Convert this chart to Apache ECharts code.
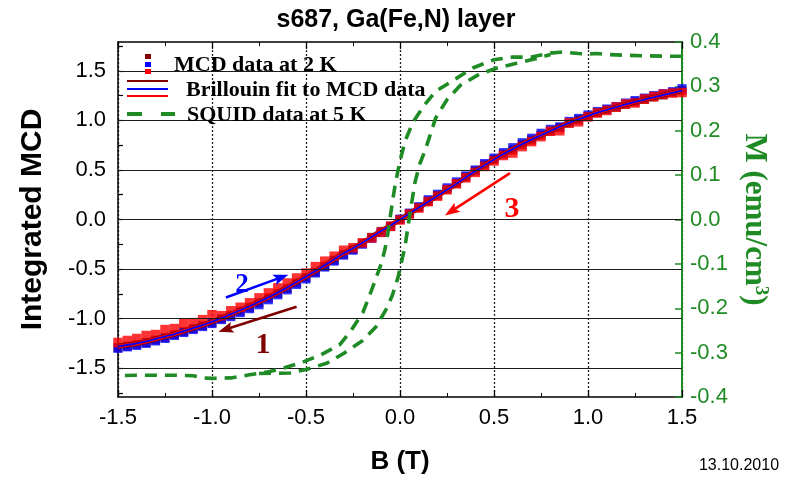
<!DOCTYPE html>
<html>
<head>
<meta charset="utf-8">
<script src="https://cdn.jsdelivr.net/npm/echarts@6/dist/echarts.min.js"></script>
<style>
  html, body { margin: 0; padding: 0; background: #ffffff; }
  #chart { width: 792px; height: 480px; }
</style>
</head>
<body>
<div id="chart"></div>
<script>
// Magnetic field B (T), shared by the three MCD sweeps and the Brillouin fit
const fieldT = [-1.5, -1.45, -1.4, -1.35, -1.3, -1.25, -1.2, -1.15, -1.1, -1.05,
  -1, -0.95, -0.9, -0.85, -0.8, -0.75, -0.7, -0.65, -0.6, -0.55,
  -0.5, -0.45, -0.4, -0.35, -0.3, -0.25, -0.2, -0.15, -0.1, -0.05,
  0, 0.05, 0.1, 0.15, 0.2, 0.25, 0.3, 0.35, 0.4, 0.45,
  0.5, 0.55, 0.6, 0.65, 0.7, 0.75, 0.8, 0.85, 0.9, 0.95,
  1, 1.05, 1.1, 1.15, 1.2, 1.25, 1.3, 1.35, 1.4, 1.45, 1.5];

// Integrated MCD, sweep 1 (down), sweep 2 (up), sweep 3 (down)
const mcdSweep1 = [-1.29, -1.275, -1.26, -1.24, -1.215, -1.19, -1.16, -1.13, -1.10, -1.07,
  -1.04, -1.00, -0.965, -0.925, -0.885, -0.84, -0.79, -0.745, -0.695, -0.64,
  -0.585, -0.53, -0.47, -0.41, -0.35, -0.30, -0.24, -0.18, -0.12, -0.065,
  0.0, 0.06, 0.12, 0.185, 0.245, 0.305, 0.365, 0.43, 0.49, 0.55,
  0.605, 0.66, 0.70, 0.755, 0.80, 0.85, 0.89, 0.925, 0.97, 1.005,
  1.04, 1.075, 1.105, 1.13, 1.16, 1.185, 1.21, 1.235, 1.255, 1.28, 1.30];
const mcdSweep2 = [-1.30, -1.285, -1.27, -1.25, -1.225, -1.20, -1.17, -1.14, -1.11, -1.08,
  -1.05, -1.01, -0.98, -0.94, -0.90, -0.86, -0.81, -0.76, -0.71, -0.655,
  -0.60, -0.54, -0.48, -0.42, -0.36, -0.31, -0.25, -0.19, -0.13, -0.07,
  0.005, 0.065, 0.13, 0.20, 0.255, 0.32, 0.38, 0.44, 0.50, 0.565,
  0.62, 0.675, 0.725, 0.775, 0.82, 0.87, 0.91, 0.935, 0.99, 1.02,
  1.055, 1.09, 1.115, 1.14, 1.175, 1.20, 1.225, 1.25, 1.27, 1.29, 1.32];
const mcdSweep3 = [-1.24, -1.22, -1.20, -1.17, -1.16, -1.11, -1.10, -1.05, -1.04, -1.01,
  -0.96, -0.97, -0.92, -0.885, -0.84, -0.79, -0.74, -0.69, -0.64, -0.59,
  -0.54, -0.475, -0.42, -0.37, -0.31, -0.285, -0.235, -0.185, -0.13, -0.07,
  -0.005, 0.055, 0.115, 0.18, 0.235, 0.30, 0.36, 0.42, 0.475, 0.535,
  0.59, 0.645, 0.67, 0.735, 0.785, 0.835, 0.89, 0.895, 0.975, 0.985,
  1.035, 1.075, 1.10, 1.135, 1.165, 1.175, 1.215, 1.24, 1.265, 1.275, 1.28];

// Brillouin fit evaluated on the same field grid
const brillouinFit = [-1.28, -1.265, -1.25, -1.23, -1.205, -1.18, -1.155, -1.125, -1.095, -1.065,
  -1.03, -0.995, -0.955, -0.915, -0.875, -0.83, -0.785, -0.735, -0.685, -0.63,
  -0.576, -0.52, -0.46, -0.40, -0.34, -0.29, -0.235, -0.175, -0.115, -0.06,
  0, 0.06, 0.12, 0.18, 0.24, 0.30, 0.36, 0.425, 0.487, 0.548,
  0.606, 0.66, 0.71, 0.76, 0.805, 0.85, 0.893, 0.935, 0.975, 1.012,
  1.046, 1.077, 1.106, 1.134, 1.16, 1.185, 1.21, 1.232, 1.255, 1.278, 1.30];

// SQUID magnetisation at 5 K (emu/cm^3): descending branch over the full range
const squidDownB = [1.5, 1.4, 1.3, 1.2, 1.1, 1.05, 1.0, 0.95, 0.9, 0.85,
  0.8, 0.7, 0.6, 0.5, 0.39, 0.3, 0.19, 0.13, 0.07, 0.03,
  0.009, -0.01, -0.027, -0.04, -0.053, -0.065, -0.08, -0.1, -0.13, -0.165,
  -0.197, -0.26, -0.32, -0.42, -0.52, -0.62, -0.71, -0.8, -0.9, -1.0,
  -1.05, -1.1, -1.2, -1.3, -1.4, -1.5];
const squidDownM = [0.368, 0.368, 0.369, 0.370, 0.372, 0.374, 0.373, 0.374, 0.376, 0.377,
  0.375, 0.366, 0.366, 0.360, 0.342, 0.318, 0.289, 0.258, 0.220, 0.180,
  0.147, 0.112, 0.075, 0.040, 0.003, -0.032, -0.067, -0.100, -0.135, -0.175,
  -0.209, -0.250, -0.282, -0.305, -0.322, -0.335, -0.344, -0.350, -0.357, -0.358,
  -0.357, -0.352, -0.351, -0.351, -0.351, -0.352];
// ascending branch, where it separates from the descending one
const squidUpB = [-0.75, -0.585, -0.5, -0.39, -0.3, -0.2, -0.13, -0.07, -0.04, -0.011,
  0.027, 0.053, 0.08, 0.105, 0.133, 0.19, 0.25, 0.32, 0.42, 0.52,
  0.62, 0.72, 0.8];
const squidUpM = [-0.347, -0.346, -0.338, -0.324, -0.302, -0.273, -0.243, -0.200, -0.170, -0.131,
  -0.060, 0.014, 0.084, 0.125, 0.155, 0.229, 0.270, 0.302, 0.327, 0.342,
  0.352, 0.362, 0.372];

// Tick labels and tick marks on the MCD axis
const mcdLabelValues = [-1.5, -1.0, -0.5, 0.0, 0.5, 1.0, 1.5];
const mcdTickValues = [-1.75, -1.5, -1.25, -1.0, -0.75, -0.5, -0.25, 0, 0.25, 0.5, 0.75, 1.0, 1.25, 1.5, 1.75];

// Sweep-direction arrows and their numbers, in data units (B, MCD)
const sweepArrows = [
  { from: [-0.55, -0.879], to: [-0.966, -1.132], color: '#800000' },
  { from: [-0.926, -0.787], to: [-0.594, -0.557], color: '#0000ff' },
  { from: [0.585, 0.468], to: [0.239, 0.041], color: '#ff0000' }
];
const sweepLabels = [
  { text: '1', at: [-0.729, -1.27], color: '#800000', size: 30 },
  { text: '2', at: [-0.84, -0.665], color: '#0000ff', size: 27 },
  { text: '3', at: [0.596, 0.10], color: '#ff0000', size: 30 }
];

const SANS = '"Liberation Sans", Arial, sans-serif';
const SERIF = '"Liberation Serif", "Times New Roman", serif';
const GREEN = '#1f8b24';

const pairs = (xs, ys) => xs.map((x, i) => [x, ys[i]]);

const chart = echarts.init(document.getElementById('chart'), null, { renderer: 'canvas' });

const option = {
  animation: false,
  backgroundColor: '#ffffff',
  title: {
    text: 's687, Ga(Fe,N) layer',
    left: 'center',
    top: 3,
    textStyle: { fontFamily: SANS, fontWeight: 'bold', fontSize: 25, color: '#000' }
  },
  grid: { left: 118, right: 110, top: 42, bottom: 77, containLabel: false },
  xAxis: [
    {
      type: 'value', min: -1.5, max: 1.5, interval: 0.5, position: 'bottom',
      name: 'B (T)', nameLocation: 'middle', nameGap: 52,
      nameTextStyle: { fontFamily: SANS, fontWeight: 'bold', fontSize: 26, color: '#000' },
      axisLine: { onZero: false, lineStyle: { color: '#000', width: 1.5 } },
      axisTick: { inside: true, length: 7, lineStyle: { color: '#000', width: 1.2 } },
      minorTick: { show: true, splitNumber: 2, length: 4, lineStyle: { color: '#000', width: 1 } },
      axisLabel: { fontFamily: SANS, fontSize: 22, color: '#000', margin: 10,
        formatter: v => v.toFixed(1) },
      splitLine: { show: true, lineStyle: { color: '#222', width: 1.3, type: [2, 2] } }
    },
    {
      type: 'value', min: -1.5, max: 1.5, interval: 0.5, position: 'top',
      axisLine: { onZero: false, lineStyle: { color: '#000', width: 1.5 } },
      axisTick: { inside: true, length: 7, lineStyle: { color: '#000', width: 1.2 } },
      minorTick: { show: true, splitNumber: 2, length: 4, lineStyle: { color: '#000', width: 1 } },
      axisLabel: { show: false },
      splitLine: { show: false }
    }
  ],
  yAxis: [
    {
      type: 'value', min: -1.79, max: 1.79, position: 'left',
      name: 'Integrated MCD', nameLocation: 'middle', nameGap: 70, nameRotate: 90,
      nameTextStyle: { fontFamily: SANS, fontWeight: 'bold', fontSize: 30, color: '#000' },
      axisLine: { onZero: false, lineStyle: { color: '#000', width: 1.5 } },
      axisTick: { inside: true, length: 5, customValues: mcdTickValues,
        lineStyle: { color: '#000', width: 1.2 } },
      axisLabel: {
        fontFamily: SANS, fontSize: 22, color: '#000', margin: 12,
        customValues: mcdLabelValues,
        formatter: v => Number(v).toFixed(1)
      },
      splitLine: { show: false }
    },
    {
      type: 'value', min: -0.4, max: 0.4, interval: 0.1, position: 'right',
      name: 'M (emu/cm{sup|3})', nameLocation: 'middle', nameGap: 56, nameRotate: -90,
      nameTextStyle: {
        fontFamily: SERIF, fontWeight: 'bold', fontSize: 31, color: GREEN,
        rich: { sup: { fontFamily: SERIF, fontWeight: 'bold', fontSize: 19, color: GREEN, verticalAlign: 'top', padding: [0, 0, 13, 0] } }
      },
      axisLine: { onZero: false, lineStyle: { color: GREEN, width: 2 } },
      axisTick: { inside: true, length: 7, lineStyle: { color: GREEN, width: 1.5 } },
      axisLabel: { fontFamily: SANS, fontSize: 22, color: GREEN, margin: 8,
        formatter: v => v.toFixed(1) },
      splitLine: { show: false }
    }
  ],
  series: [
    {
      name: 'MCD sweep 1', type: 'scatter', xAxisIndex: 0, yAxisIndex: 0,
      symbol: 'rect', symbolSize: 9, itemStyle: { color: '#800000' },
      data: pairs(fieldT, mcdSweep1), z: 3
    },
    {
      name: 'MCD sweep 2', type: 'scatter', xAxisIndex: 0, yAxisIndex: 0,
      symbol: 'rect', symbolSize: 9, itemStyle: { color: '#0000ff' },
      data: pairs(fieldT, mcdSweep2), z: 3
    },
    {
      name: 'MCD sweep 3', type: 'scatter', xAxisIndex: 0, yAxisIndex: 0,
      symbol: 'rect', symbolSize: 9.5, itemStyle: { color: '#ff0000' },
      data: pairs(fieldT, mcdSweep3), z: 3
    },
    {
      name: 'Fit sweep 1', type: 'line', xAxisIndex: 0, yAxisIndex: 0,
      showSymbol: false, smooth: 0.3, lineStyle: { color: '#800000', width: 5 },
      data: pairs(fieldT, brillouinFit), z: 4,
      markLine: {
        silent: true, symbol: 'none', animation: false,
        label: { show: false },
        lineStyle: { color: '#1a1a1a', width: 1, type: 'solid' },
        data: mcdLabelValues.map(v => ({ yAxis: v }))
      }
    },
    {
      name: 'Fit sweep 3', type: 'line', xAxisIndex: 0, yAxisIndex: 0,
      showSymbol: false, smooth: 0.3, lineStyle: { color: '#ff0000', width: 3.6 },
      data: pairs(fieldT, brillouinFit), z: 4
    },
    {
      name: 'Fit sweep 2', type: 'line', xAxisIndex: 0, yAxisIndex: 0,
      showSymbol: false, smooth: 0.3, lineStyle: { color: '#0000ff', width: 1.8 },
      data: pairs(fieldT, brillouinFit), z: 4
    },
    {
      name: 'SQUID descending', type: 'line', xAxisIndex: 0, yAxisIndex: 1,
      showSymbol: false, lineStyle: { color: GREEN, width: 3.6, type: [12, 8], cap: 'butt' },
      data: pairs(squidDownB, squidDownM), z: 5
    },
    {
      name: 'SQUID ascending', type: 'line', xAxisIndex: 0, yAxisIndex: 1,
      showSymbol: false, lineStyle: { color: GREEN, width: 3.6, type: [12, 8], cap: 'butt' },
      data: pairs(squidUpB, squidUpM), z: 5
    }
  ]
};

chart.setOption(option);

// Overlay: legend, sweep arrows with numbers, date stamp
const toPx = p => chart.convertToPixel({ xAxisIndex: 0, yAxisIndex: 0 }, p);

function arrowShapes(a, b, color) {
  const p0 = toPx(a), p1 = toPx(b);
  const dx = p1[0] - p0[0], dy = p1[1] - p0[1];
  const len = Math.hypot(dx, dy), ux = dx / len, uy = dy / len;
  const headLen = 15, headHalf = 5.5, notch = 3;
  const bx = p1[0] - ux * headLen, by = p1[1] - uy * headLen;
  return [
    { type: 'line', z: 20, shape: { x1: p0[0], y1: p0[1], x2: bx + ux * notch, y2: by + uy * notch },
      style: { stroke: color, lineWidth: 2.6 } },
    { type: 'polygon', z: 20, shape: { points: [
        [p1[0], p1[1]],
        [bx - uy * headHalf, by + ux * headHalf],
        [bx + ux * notch, by + uy * notch],
        [bx + uy * headHalf, by - ux * headHalf]
      ] }, style: { fill: color } }
  ];
}

const overlay = [];
sweepArrows.forEach(a => overlay.push(...arrowShapes(a.from, a.to, a.color)));
sweepLabels.forEach(l => {
  const p = toPx(l.at);
  overlay.push({ type: 'text', z: 20, x: p[0], y: p[1],
    style: { text: l.text, fill: l.color, font: 'bold ' + l.size + 'px ' + SERIF,
      align: 'center', verticalAlign: 'middle' } });
});

// legend block
const legendFont = 'bold 22px ' + SERIF;
overlay.push(
  { type: 'rect', z: 21, shape: { x: 145, y: 54, width: 6, height: 5 }, style: { fill: '#800000' } },
  { type: 'rect', z: 21, shape: { x: 145, y: 62, width: 6, height: 5 }, style: { fill: '#0000ff' } },
  { type: 'rect', z: 21, shape: { x: 145, y: 69, width: 6, height: 5 }, style: { fill: '#ff0000' } },
  { type: 'text', z: 21, x: 174, y: 65, style: { text: 'MCD data at 2 K', font: legendFont, fill: '#000', verticalAlign: 'middle' } },
  { type: 'line', z: 21, shape: { x1: 127, y1: 81, x2: 168, y2: 81 }, style: { stroke: '#800000', lineWidth: 2 } },
  { type: 'line', z: 21, shape: { x1: 127, y1: 89, x2: 168, y2: 89 }, style: { stroke: '#0000ff', lineWidth: 2 } },
  { type: 'line', z: 21, shape: { x1: 127, y1: 96, x2: 168, y2: 96 }, style: { stroke: '#ff0000', lineWidth: 2 } },
  { type: 'text', z: 21, x: 186, y: 90, style: { text: 'Brillouin fit to MCD data', font: legendFont, fill: '#000', verticalAlign: 'middle' } },
  { type: 'line', z: 21, shape: { x1: 127, y1: 114, x2: 142, y2: 114 }, style: { stroke: GREEN, lineWidth: 4 } },
  { type: 'line', z: 21, shape: { x1: 161, y1: 114, x2: 175, y2: 114 }, style: { stroke: GREEN, lineWidth: 4 } },
  { type: 'text', z: 21, x: 187, y: 115, style: { text: 'SQUID data at 5 K', font: legendFont, fill: '#000', verticalAlign: 'middle' } },
  { type: 'text', z: 21, x: 739, y: 466, style: { text: '13.10.2010', font: '16px ' + SANS, fill: '#000', align: 'center', verticalAlign: 'middle' } }
);

chart.setOption({ graphic: overlay });
</script>
</body>
</html>
